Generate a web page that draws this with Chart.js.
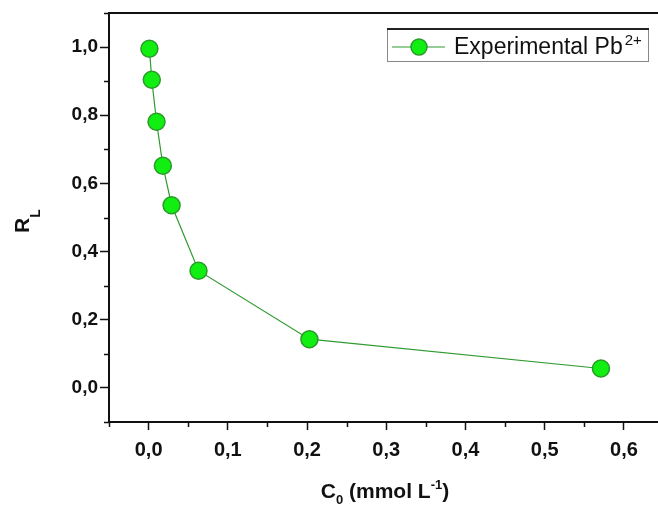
<!DOCTYPE html>
<html>
<head>
<meta charset="utf-8">
<script src="https://cdn.jsdelivr.net/npm/chart.js@4/dist/chart.umd.min.js"></script>
<style>
  html, body { margin: 0; padding: 0; background: #fff; }
  #wrap { width: 658px; height: 506px; }
</style>
</head>
<body>
<div id="wrap"><canvas id="rlChart" width="658" height="506"></canvas></div>
<script>
// data
const c0Values = [0.001, 0.004, 0.010, 0.018, 0.029, 0.063, 0.203, 0.571];
const rlValues = [0.995, 0.904, 0.781, 0.652, 0.536, 0.344, 0.143, 0.057];
const seriesName = "Experimental Pb";
const seriesSup = "2+";

const points = c0Values.map((x, i) => ({ x: x, y: rlValues[i] }));
const fmt = v => v.toFixed(1).replace(".", ",");
const isMajor = (v, step) => Math.abs(v / step - Math.round(v / step)) < 1e-6;
const FONT = "'Liberation Sans', Arial, sans-serif";

// titles, minor ticks, top frame line and boxed legend
const decorations = {
    id: "decorations",
    afterDraw(chart) {
        const c = chart.ctx;
        const a = chart.chartArea;
        const sx = chart.scales.x, sy = chart.scales.y;
        c.save();
        // top frame line
        c.strokeStyle = "#111";
        c.lineWidth = 2;
        c.beginPath();
        c.moveTo(a.left - 1, a.top);
        c.lineTo(a.right, a.top);
        c.stroke();

        // minor ticks (shorter)
        c.lineWidth = 1.5;
        c.beginPath();
        sx.ticks.forEach(t => {
            if (!isMajor(t.value, 0.1)) {
                const px = Math.round(sx.getPixelForValue(t.value)) + 0.5;
                c.moveTo(px, a.bottom);
                c.lineTo(px, a.bottom + 5);
            }
        });
        sy.ticks.forEach(t => {
            if (!isMajor(t.value, 0.2)) {
                const py = Math.round(sy.getPixelForValue(t.value)) + 0.5;
                c.moveTo(a.left, py);
                c.lineTo(a.left - 5, py);
            }
        });
        c.stroke();

        // y title R_L
        c.fillStyle = "#111";
        c.save();
        c.translate(29, 233);
        c.rotate(-Math.PI / 2);
        c.textAlign = "left";
        c.textBaseline = "alphabetic";
        c.font = "bold 21px " + FONT;
        const rW = c.measureText("R").width;
        c.fillText("R", 0, 0);
        c.font = "bold 14px " + FONT;
        c.fillText("L", rW, 11);
        c.restore();

        // x title C_0 (mmol L^-1)
        const big = "bold 21px " + FONT;
        const small = "bold 13px " + FONT;
        const parts = [
            { t: "C", f: big, dy: 0 },
            { t: "0", f: small, dy: 6 },
            { t: " (mmol L", f: big, dy: 0 },
            { t: "-1", f: small, dy: -9 },
            { t: ")", f: big, dy: 0 }
        ];
        let total = 0;
        parts.forEach(p => { c.font = p.f; p.w = c.measureText(p.t).width; total += p.w; });
        let xx = 385 - total / 2;
        parts.forEach(p => { c.font = p.f; c.fillText(p.t, xx, 498 + p.dy); xx += p.w; });

        // legend box
        const bx = 387, by = 28, bw = 261, bh = 33;
        c.fillStyle = "#fff";
        c.fillRect(bx, by, bw, bh);
        c.strokeStyle = "#888";
        c.lineWidth = 1;
        c.strokeRect(bx + 0.5, by + 0.5, bw, bh);
        c.strokeStyle = "#222";
        c.lineWidth = 2;
        c.beginPath();
        c.moveTo(bx, by + 1);
        c.lineTo(bx + bw + 1, by + 1);
        c.stroke();
        c.strokeStyle = "#2f9a2f";
        c.lineWidth = 1.2;
        c.beginPath();
        c.moveTo(bx + 5, by + 19);
        c.lineTo(bx + 58, by + 19);
        c.stroke();
        c.fillStyle = "#11ee11";
        c.strokeStyle = "#2a9a2a";
        c.lineWidth = 1.5;
        c.beginPath();
        c.arc(bx + 32, by + 19, 8, 0, Math.PI * 2);
        c.fill();
        c.stroke();
        c.fillStyle = "#111";
        c.font = "23px " + FONT;
        c.fillText(seriesName, bx + 67, by + 26);
        const nw = c.measureText(seriesName).width;
        c.font = "15px " + FONT;
        c.fillText(seriesSup, bx + 67 + nw + 2, by + 17);
        c.restore();
    }
};

const ctx = document.getElementById("rlChart").getContext("2d");

const rlChart = new Chart(ctx, {
    type: "scatter",
    data: {
        datasets: [{
            label: seriesName,
            data: points,
            showLine: true,
            clip: false,
            borderColor: "#2f9a2f",
            borderWidth: 1.2,
            pointRadius: 8.5,
            pointHoverRadius: 8.5,
            pointBackgroundColor: "#11ee11",
            pointBorderColor: "#2a9a2a",
            pointBorderWidth: 1.5
        }]
    },
    options: {
        responsive: false,
        animation: false,
        events: [],
        layout: { autoPadding: false, padding: { top: 13, right: 0, left: 0, bottom: 0 } },
        plugins: { legend: { display: false }, tooltip: { enabled: false } },
        scales: {
            x: {
                type: "linear",
                min: -0.05,
                max: 0.643,
                afterBuildTicks: s => {
                    s.ticks = [];
                    for (let v = -0.05; v <= 0.64; v += 0.05) s.ticks.push({ value: Math.round(v * 100) / 100 });
                },
                afterFit: s => { s.height = 84; s.paddingLeft = 0; s.paddingRight = 0; },
                grid: {
                    drawOnChartArea: false,
                    drawTicks: true,
                    tickLength: 8,
                    tickColor: c => (isMajor(c.tick.value, 0.1) ? "#111" : "rgba(0,0,0,0)"),
                    tickWidth: 1.5
                },
                border: { color: "#111", width: 2 },
                ticks: {
                    autoSkip: false,
                    maxRotation: 0,
                    padding: 8,
                    color: "#111",
                    font: { family: FONT, size: 20, weight: "bold" },
                    callback: v => (isMajor(v, 0.1) ? fmt(v) : "")
                }
            },
            y: {
                type: "linear",
                min: -0.1,
                max: 1.1,
                afterBuildTicks: s => {
                    s.ticks = [];
                    for (let v = -0.1; v <= 1.1001; v += 0.1) s.ticks.push({ value: Math.round(v * 10) / 10 });
                },
                afterFit: s => { s.width = 109; s.paddingTop = 0; s.paddingBottom = 0; },
                grid: {
                    drawOnChartArea: false,
                    drawTicks: true,
                    tickLength: 9,
                    tickColor: c => (isMajor(c.tick.value, 0.2) ? "#111" : "rgba(0,0,0,0)"),
                    tickWidth: 1.5
                },
                border: { color: "#111", width: 2 },
                ticks: {
                    autoSkip: false,
                    padding: 2,
                    color: "#111",
                    font: { family: FONT, size: 19, weight: "bold" },
                    callback: v => (isMajor(v, 0.2) && v > -0.05 && v < 1.05 ? fmt(v) : "")
                }
            }
        }
    },
    plugins: [decorations]
});
</script>
</body>
</html>
